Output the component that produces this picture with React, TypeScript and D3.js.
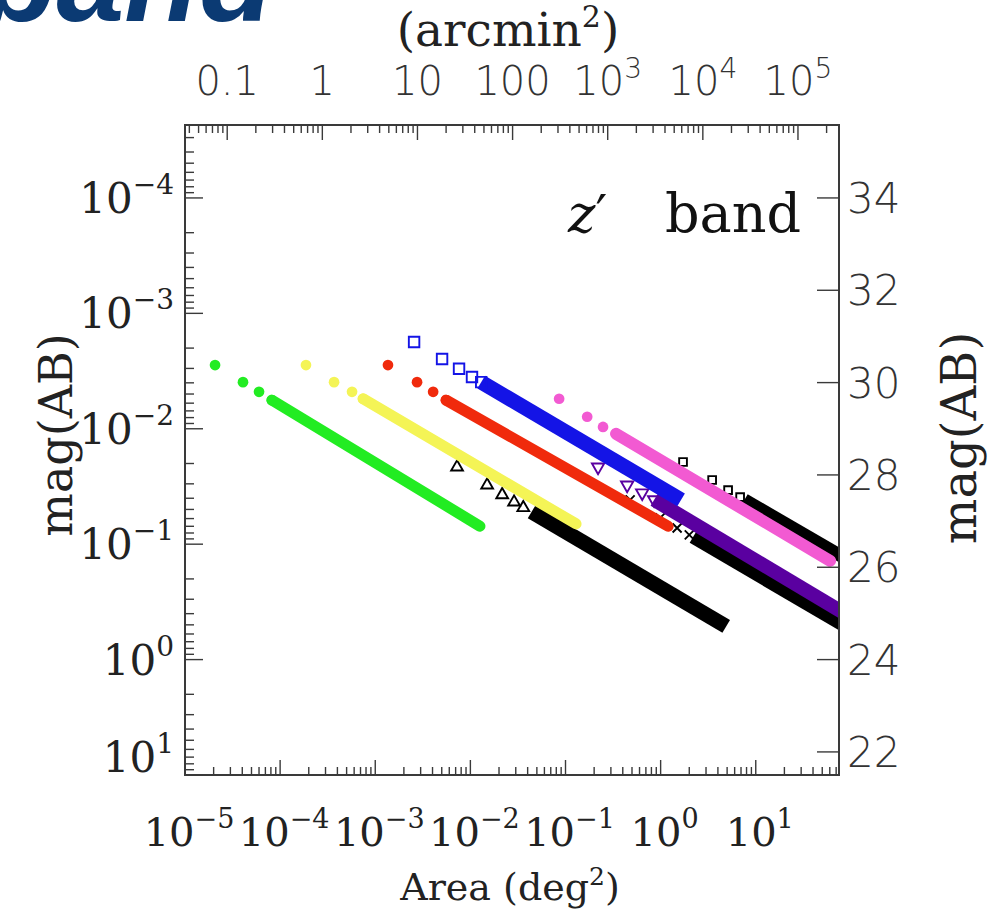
import * as d3 from 'd3';

const W = 990;
const H = 914;
const M = { left: 185, right: 839, top: 125, bottom: 775 };

// area (deg^2) on x, limiting magnitude (AB) on y
const areaDomain: [number, number] = [1e-5, 75];
const magDomain: [number, number] = [21.5, 35.58];

const areaDecades = [-5, -4, -3, -2, -1, 0, 1];
const arcminLabels = [
  { v: 0.1, base: '0.1', exp: '' },
  { v: 1, base: '1', exp: '' },
  { v: 10, base: '10', exp: '' },
  { v: 100, base: '100', exp: '' },
  { v: 1e3, base: '10', exp: '3' },
  { v: 1e4, base: '10', exp: '4' },
  { v: 1e5, base: '10', exp: '5' },
];
const magTicks = [22, 24, 26, 28, 30, 32, 34];
const fluxDecades = [-4, -3, -2, -1, 0, 1];

// [area, mag]: first few separate markers, then the dense run
const greenPts: [number, number][] = [[2.07e-5, 30.38], [4.07e-5, 30.01], [6.0e-5, 29.8], [8.2e-5, 29.62]];
const greenRun: [number, number][] = [[8.2e-5, 29.62], [1.26e-2, 26.89]];
const yellowPts: [number, number][] = [[1.87e-4, 30.38], [3.69e-4, 30.01], [5.7e-4, 29.8], [7.45e-4, 29.65]];
const yellowRun: [number, number][] = [[7.45e-4, 29.65], [0.129, 26.94]];
const redPts: [number, number][] = [[1.36e-3, 30.38], [2.75e-3, 30.01], [4.06e-3, 29.8], [5.55e-3, 29.62]];
const redRun: [number, number][] = [[5.55e-3, 29.62], [1.2, 26.89]];
const bluePts: [number, number][] = [[2.56e-3, 30.88], [5.04e-3, 30.51], [7.6e-3, 30.3], [1.04e-2, 30.12], [1.3e-2, 30.01]];
const blueRun: [number, number][] = [[1.3e-2, 30.01], [1.64, 27.46]];
const pinkPts: [number, number][] = [[0.0857, 29.65], [0.169, 29.26], [0.248, 29.04], [0.34, 28.89]];
const pinkRun: [number, number][] = [[0.34, 28.89], [60.5, 26.14]];
const triPts: [number, number][] = [[7.24e-3, 28.17], [1.5e-2, 27.78], [2.16e-2, 27.57], [2.88e-2, 27.41], [3.6e-2, 27.29]];
const triRun: [number, number][] = [[4.4e-2, 27.2], [4.89, 24.72]];
const purplePts: [number, number][] = [[0.22, 28.17], [0.445, 27.78], [0.64, 27.61], [0.855, 27.46]];
const purpleRun: [number, number][] = [[0.855, 27.46], [100, 24.92]];
const crossPts: [number, number][] = [[0.478, 27.46], [0.989, 27.07], [1.49, 26.85], [2.0, 26.7]];
const crossRun: [number, number][] = [[2.2, 26.66], [100, 24.66]];
const boxPts: [number, number][] = [[1.72, 28.28], [3.48, 27.89], [5.12, 27.67], [6.85, 27.52]];
const boxRun: [number, number][] = [[7.6, 27.46], [100, 26.12]];

type Marker = 'dot' | 'square' | 'tri' | 'tridown' | 'cross' | 'box';
interface Series {
  pts: [number, number][];
  run: [number, number][];
  color: string;
  marker: Marker;
  band: number;
}

// drawing order: black/purple underneath, coloured runs on top
const series: Series[] = [
  { pts: triPts, run: triRun, color: '#000000', marker: 'tri', band: 15 },
  { pts: crossPts, run: crossRun, color: '#000000', marker: 'cross', band: 14 },
  { pts: boxPts, run: boxRun, color: '#000000', marker: 'box', band: 13 },
  { pts: purplePts, run: purpleRun, color: '#5a00a0', marker: 'tridown', band: 14 },
  { pts: greenPts, run: greenRun, color: '#22ec22', marker: 'dot', band: 11 },
  { pts: yellowPts, run: yellowRun, color: '#f4f456', marker: 'dot', band: 11 },
  { pts: redPts, run: redRun, color: '#f02a0c', marker: 'dot', band: 11 },
  { pts: bluePts, run: blueRun, color: '#1414e6', marker: 'square', band: 15 },
  { pts: pinkPts, run: pinkRun, color: '#f25ad2', marker: 'dot', band: 12 },
];

const x = d3.scaleLog().domain(areaDomain).range([M.left, M.right]);
const xArc = d3.scaleLog().domain([areaDomain[0] * 3600, areaDomain[1] * 3600]).range([M.left, M.right]);
const y = d3.scaleLinear().domain(magDomain).range([M.bottom, M.top]);
const fluxToMag = (f: number) => 24 - 2.5 * Math.log10(f);

const SERIF = "'DejaVu Serif', 'Liberation Serif', serif";
const SANS = "'DejaVu Sans', 'Open Sans', sans-serif";
const AXIS = '#3a3a3a';
const INK = '#222';

function logTicks(lo: number, hi: number) {
  const out: { v: number; major: boolean }[] = [];
  for (let e = Math.floor(Math.log10(lo)); e <= Math.ceil(Math.log10(hi)); e++) {
    for (let m = 1; m <= 9; m++) {
      const v = m * Math.pow(10, e);
      if (v >= lo * 0.999 && v <= hi * 1.001) out.push({ v, major: m === 1 });
    }
  }
  return out;
}

function markerPath(m: Marker) {
  switch (m) {
    case 'dot': return d3.symbol(d3.symbolCircle, 90)() ?? '';
    case 'square': return d3.symbol(d3.symbolSquare, 110)() ?? '';
    case 'box': return d3.symbol(d3.symbolSquare, 60)() ?? '';
    case 'tri': return d3.symbol(d3.symbolTriangle, 60)() ?? '';
    case 'tridown': return d3.symbol(d3.symbolTriangle, 65)() ?? '';
    case 'cross': return 'M-4.5,-4.5L4.5,4.5M-4.5,4.5L4.5,-4.5';
  }
}

const sup = (e: number) => (e < 0 ? '\u2212' + -e : String(e));

export default function App() {
  const line = d3.line<[number, number]>().x(d => x(d[0])).y(d => y(d[1]));
  const xTicks = logTicks(areaDomain[0], areaDomain[1]);
  const arcTicks = logTicks(areaDomain[0] * 3600, areaDomain[1] * 3600);
  const fluxLo = Math.pow(10, (24 - magDomain[1]) / 2.5);
  const fluxHi = Math.pow(10, (24 - magDomain[0]) / 2.5);
  const fTicks = logTicks(fluxLo, fluxHi);

  return (
    <svg width={W} height={H} style={{ position: 'absolute', left: 0, top: 0, background: '#fff' }}>
      <defs>
        <clipPath id="plot">
          <rect x={M.left} y={M.top} width={M.right - M.left} height={M.bottom - M.top} />
        </clipPath>
      </defs>

      {/* cut-off slide title */}
      <text x={-18} y={21} fontFamily="'Liberation Sans', Arial, sans-serif" fontStyle="italic" fontWeight="bold" fontSize={122} fill="#0b3a73">band</text>

      {/* data */}
      <g clipPath="url(#plot)">
        {series.map((s, i) => (
          <g key={i}>
            <path d={line(s.run) ?? ''} fill="none" stroke={s.color} strokeWidth={s.band} strokeLinecap={s.marker === 'dot' ? 'round' : 'butt'} />
            {s.pts.map((p, j) => {
              const open = s.marker !== 'dot';
              const rot = s.marker === 'tridown' ? 180 : 0;
              return (
                <path
                  key={j}
                  d={markerPath(s.marker)}
                  transform={`translate(${x(p[0])},${y(p[1])}) rotate(${rot})`}
                  fill={open ? 'none' : s.color}
                  stroke={s.color}
                  strokeWidth={open ? 1.9 : 0}
                />
              );
            })}
          </g>
        ))}
      </g>

      {/* frame */}
      <rect x={M.left} y={M.top} width={M.right - M.left} height={M.bottom - M.top} fill="none" stroke={AXIS} strokeWidth={2} />

      {/* bottom ticks */}
      {xTicks.map((t, i) => (
        <line key={'b' + i} x1={x(t.v)} x2={x(t.v)} y1={M.bottom} y2={M.bottom - (t.major ? 15 : 8)} stroke={AXIS} strokeWidth={1.4} />
      ))}
      {/* top ticks (arcmin^2) */}
      {arcTicks.map((t, i) => (
        <line key={'t' + i} x1={xArc(t.v)} x2={xArc(t.v)} y1={M.top} y2={M.top + (t.major ? 15 : 8)} stroke={AXIS} strokeWidth={1.4} />
      ))}
      {/* left ticks (flux) */}
      {fTicks.map((t, i) => (
        <line key={'l' + i} x1={M.left} x2={M.left + (t.major ? 18 : 9)} y1={y(fluxToMag(t.v))} y2={y(fluxToMag(t.v))} stroke={AXIS} strokeWidth={1.4} />
      ))}
      {/* right ticks (mag) */}
      {magTicks.map(m => (
        <line key={'r' + m} x1={M.right} x2={M.right - 22} y1={y(m)} y2={y(m)} stroke={AXIS} strokeWidth={1.4} />
      ))}

      {/* bottom labels */}
      {areaDecades.map(e => (
        <text key={'bl' + e} x={x(Math.pow(10, e)) + 4} y={846} textAnchor="middle" fontFamily={SERIF} fontSize={40} fill={INK}>
          10<tspan dy={-18} fontSize={27}>{sup(e)}</tspan>
        </text>
      ))}
      <text x={510} y={900} textAnchor="middle" fontFamily={SERIF} fontSize={38} fill={INK}>
        Area (deg<tspan dy={-15} fontSize={25}>2</tspan><tspan dy={15}>)</tspan>
      </text>

      {/* top labels */}
      {arcminLabels.map(l => (
        <text key={'tl' + l.v} x={xArc(l.v)} y={95} textAnchor="middle" fontFamily={SANS} fontWeight={200} fontSize={40} fill="#333">
          {l.base}
          {l.exp && <tspan dy={-17} fontSize={28}>{l.exp}</tspan>}
        </text>
      ))}
      <text x={508} y={46} textAnchor="middle" fontFamily={SERIF} fontSize={47} fill={INK}>
        (arcmin<tspan dy={-19} fontSize={30}>2</tspan><tspan dy={19}>)</tspan>
      </text>

      {/* left labels (flux) */}
      {fluxDecades.map(e => (
        <text key={'ll' + e} x={174} y={Math.min(y(fluxToMag(Math.pow(10, e))), 757) + 15} textAnchor="end" fontFamily={SERIF} fontSize={42} fill={INK}>
          10<tspan dy={-19} fontSize={28}>{sup(e)}</tspan>
        </text>
      ))}
      <text transform={`translate(72,435) rotate(-90)`} textAnchor="middle" fontFamily={SERIF} fontSize={46} fill={INK}>mag(AB)</text>

      {/* right labels (mag) */}
      {magTicks.map(m => (
        <text key={'rl' + m} x={847} y={y(m) + 15} fontFamily={SANS} fontWeight={200} fontSize={42} fill="#333">{m}</text>
      ))}
      <text transform={`translate(976,438) rotate(-90)`} textAnchor="middle" fontFamily={SERIF} fontSize={48} fill={INK}>mag(AB)</text>

      {/* band label */}
      <text x={568} y={232} fontFamily={SERIF} fontSize={52} fill="#111">
        <tspan fontStyle="italic">z</tspan>{'\u2032'}
      </text>
      <text x={801} y={232} textAnchor="end" fontFamily={SERIF} fontSize={54} fill="#111">band</text>
    </svg>
  );
}
